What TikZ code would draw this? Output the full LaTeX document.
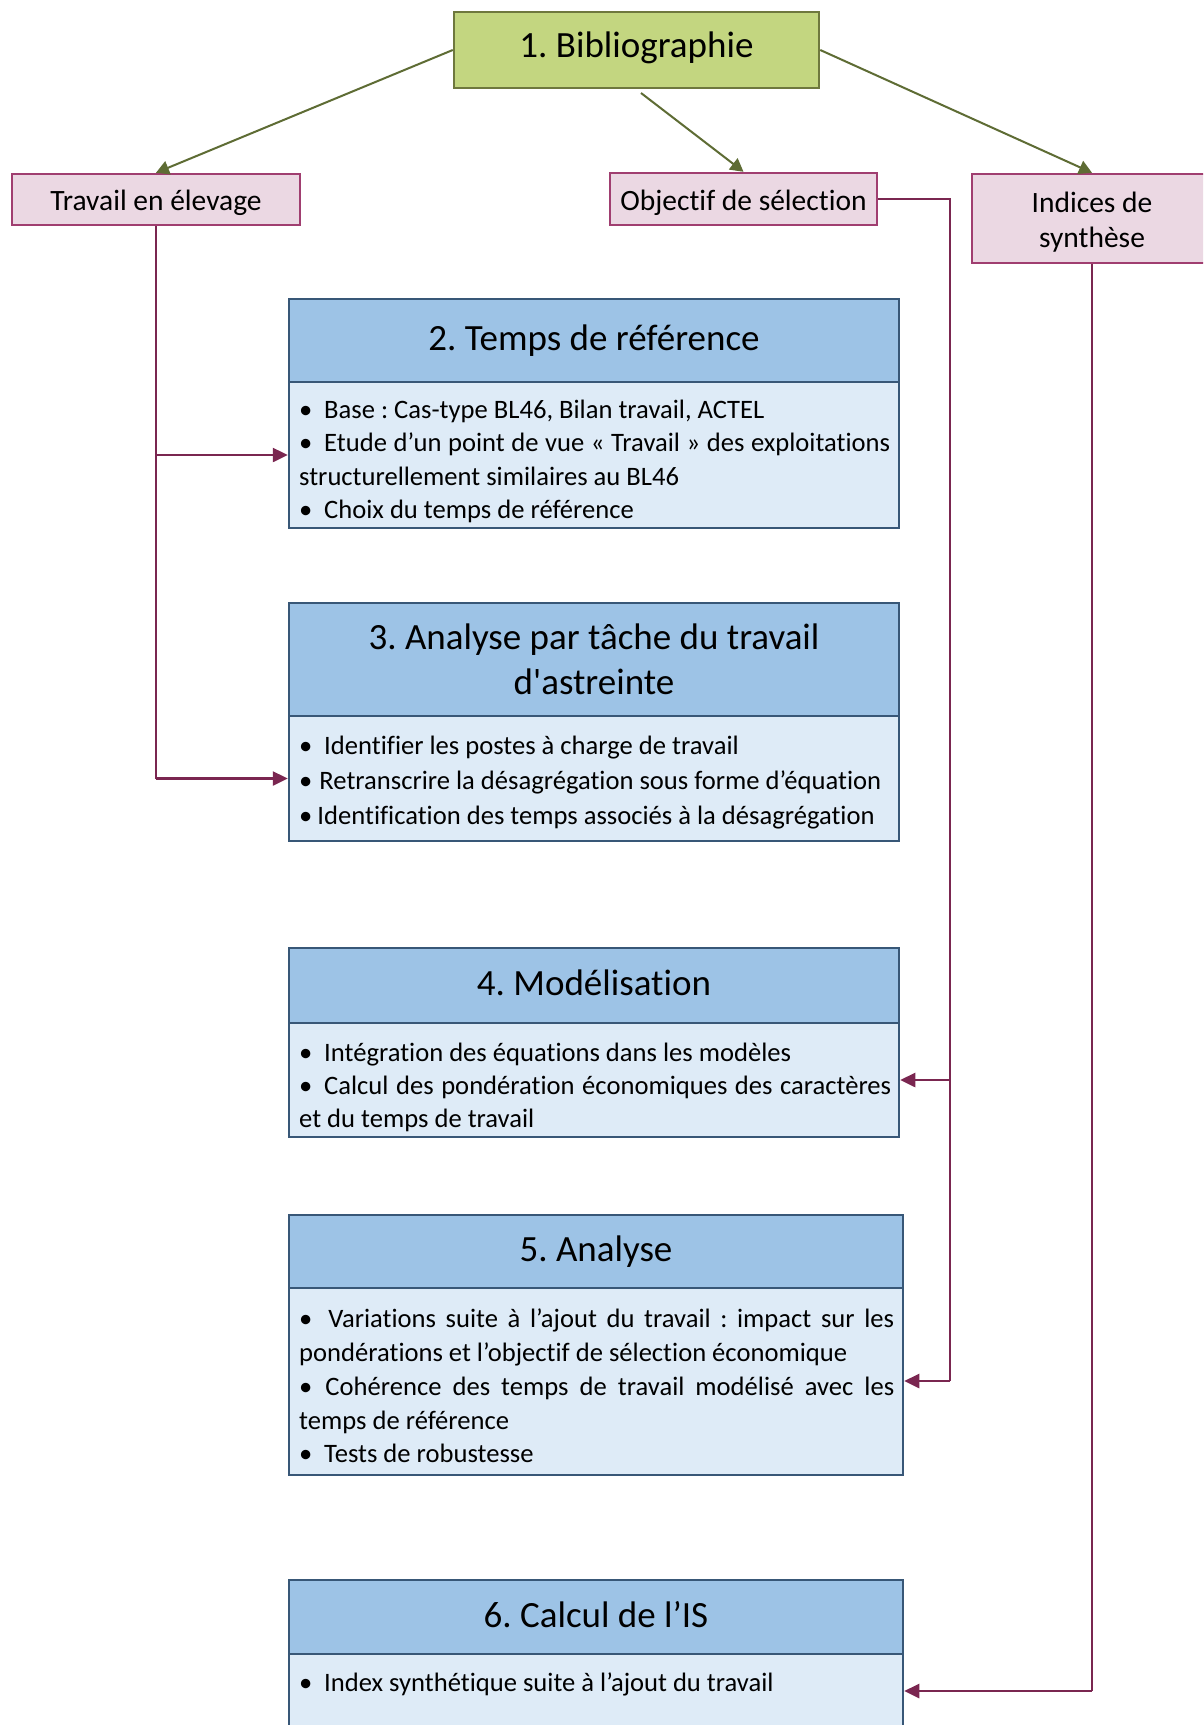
\documentclass[tikz,border=0pt]{standalone}
\usepackage{fontspec}
\setmainfont{Carlito}[Ligatures={TeXOff,NoCommon}]
\usetikzlibrary{arrows.meta}

\definecolor{bibfill}{RGB}{195,214,128}
\definecolor{bibline}{RGB}{110,120,62}
\definecolor{greenarrow}{RGB}{94,108,52}
\definecolor{pinkfill}{RGB}{235,216,227}
\definecolor{pinkline}{RGB}{160,62,112}
\definecolor{plum}{RGB}{122,38,80}
\definecolor{hdrfill}{RGB}{157,195,230}
\definecolor{bodyfill}{RGB}{222,235,247}
\definecolor{blueline}{RGB}{56,87,119}

\newcommand\bul[1]{\textbullet\hspace{#1pt}}

\tikzset{
  bibbox/.style={draw=bibline, fill=bibfill, line width=2.5pt, inner sep=0pt,
    text height=24pt, text depth=9pt, font=\fontsize{37}{45}\selectfont},
  pinkbox/.style={draw=pinkline, fill=pinkfill, line width=2.5pt, inner sep=0pt,
    font=\fontsize{29.5}{34.7}\selectfont},
  pinkone/.style={pinkbox, text height=25pt, text depth=3pt},
  pinktext/.style={inner sep=0pt, anchor=north, align=center,
    font=\fontsize{29.5}{34.7}\selectfont},
  hdrbox/.style={draw=blueline, fill=hdrfill, line width=2.5pt, inner sep=0pt,
    align=center, font=\fontsize{37}{45}\selectfont},
  hdrone/.style={hdrbox, text height=27pt, text depth=7pt},
  bodybox/.style={draw=blueline, fill=bodyfill, line width=2.5pt, inner sep=0pt},
  bodytext/.style={anchor=north west, inner sep=0pt, align=left},
  greenlink/.style={draw=greenarrow, line width=2pt,
    -{Triangle[length=13pt,width=14pt]}},
  plumlink/.style={draw=plum, line width=2.5pt,
    -{Triangle[length=15pt,width=14pt]}},
  plumline/.style={draw=plum, line width=2.5pt},
}

\begin{document}
\frenchspacing
\begin{tikzpicture}[x=1pt,y=-1pt]
\clip (0,0) rectangle (1203,1725);
\fill[white] (0,0) rectangle (1203,1725);

% top level
\node[bibbox, minimum width=365pt, minimum height=76pt] (bib) at (636.5,50) {1. Bibliographie};

\node[pinkone, minimum width=288pt, minimum height=51pt] (trav) at (156,199.5) {Travail en élevage};
\node[pinkone, minimum width=267pt, minimum height=52pt] (obj) at (743.5,199) {Objectif de sélection};
\node[pinkbox, minimum width=240pt, minimum height=89pt] (ind) at (1092,218.5) {};
\node[pinktext] (indt) at (1092,188.5) {\strut Indices de\\synthèse};

% step 2
\node[bodybox, minimum width=610pt, minimum height=146pt] (b2) at (594,455) {};
\node[hdrone, minimum width=610pt, minimum height=83pt] (h2) at (594,340.5) {2. Temps de référence};
\node[bodytext, font=\fontsize{26.6}{33.4}\selectfont] (t2) at (299,395) {%
  \strut\bul{11.8}Base : Cas-type BL46, Bilan travail, ACTEL\\
  \makebox[591pt][s]{\bul{11.8}Etude d’un point de vue « Travail » des exploitations}\\
  structurellement similaires au BL46\\
  \bul{11.8}Choix du temps de référence};

% step 3
\node[bodybox, minimum width=610pt, minimum height=125pt] (b3) at (594,778.5) {};
\node[hdrbox, minimum width=610pt, minimum height=113pt] (h3) at (594,659.5) {3. Analyse par tâche du travail\\d'astreinte};
\node[bodytext, font=\fontsize{26.6}{35}\selectfont] (t3) at (299,729.5) {%
  \strut\bul{11.8}Identifier les postes à charge de travail\\
  \bul{7}Retranscrire la désagrégation sous forme d’équation\\
  \bul{5}Identification des temps associés à la désagrégation};

% step 4
\node[bodybox, minimum width=610pt, minimum height=114pt] (b4) at (594,1080) {};
\node[hdrone, minimum width=610pt, minimum height=75pt] (h4) at (594,985.5) {4. Modélisation};
\node[bodytext, font=\fontsize{26.6}{33.4}\selectfont] (t4) at (299,1037.5) {%
  \strut\bul{11.8}Intégration des équations dans les modèles\\
  \makebox[592pt][s]{\bul{11.8}Calcul des pondération économiques des caractères}\\
  et du temps de travail};

% step 5
\node[bodybox, minimum width=614pt, minimum height=187pt] (b5) at (596,1381.5) {};
\node[hdrone, minimum width=614pt, minimum height=73pt] (h5) at (596,1251.5) {5. Analyse};
\node[bodytext, font=\fontsize{26.6}{33.75}\selectfont] (t5) at (299,1304) {%
  \strut\makebox[595pt][s]{\bul{16}Variations suite à l’ajout du travail : impact sur les}\\
  pondérations et l’objectif de sélection économique\\
  \makebox[595pt][s]{\bul{13}Cohérence des temps de travail modélisé avec les}\\
  temps de référence\\
  \bul{11.8}Tests de robustesse};

% step 6
\node[bodybox, minimum width=614pt, minimum height=106pt] (b6) at (596,1707) {};
\node[hdrone, minimum width=614pt, minimum height=74pt] (h6) at (596,1617) {6. Calcul de l’IS};
\node[bodytext, font=\fontsize{26.6}{33.4}\selectfont] (t6) at (299,1668) {%
  \strut\bul{11.8}Index synthétique suite à l’ajout du travail};

% links from the bibliography
\coordinate (bibfoot) at (641,93);
\draw[greenlink] (bib.west) -- (trav.north);
\draw[greenlink] (bibfoot) -- (obj.north);
\draw[greenlink] (bib.east) -- (ind.north);

% "Travail en élevage" feeds steps 2 and 3
\coordinate (tj2) at (trav.south |- b2.west);
\coordinate (tj3) at (trav.south |- b3.west);
\draw[plumline] (trav.south) -- (tj3);
\draw[plumlink] (tj2) -- (b2.west);
\draw[plumlink] (tj3) -- (b3.west);

% "Objectif de sélection" feeds steps 4 and 5
\coordinate (oc) at (950,199);
\coordinate (oj4) at (950,1080);
\coordinate (oj5) at (950,1381);
\draw[plumline] (obj.east) -- (oc) -- (oj5);
\draw[plumlink] (oj4) -- (b4.east |- oj4);
\draw[plumlink] (oj5) -- (b5.east |- oj5);

% "Indices de synthèse" feeds step 6
\coordinate (ij6) at (ind.south |- 0,1691);
\draw[plumline] (ind.south) -- (ij6);
\draw[plumlink] (ij6) -- (b6.east |- ij6);
\end{tikzpicture}
\end{document}
